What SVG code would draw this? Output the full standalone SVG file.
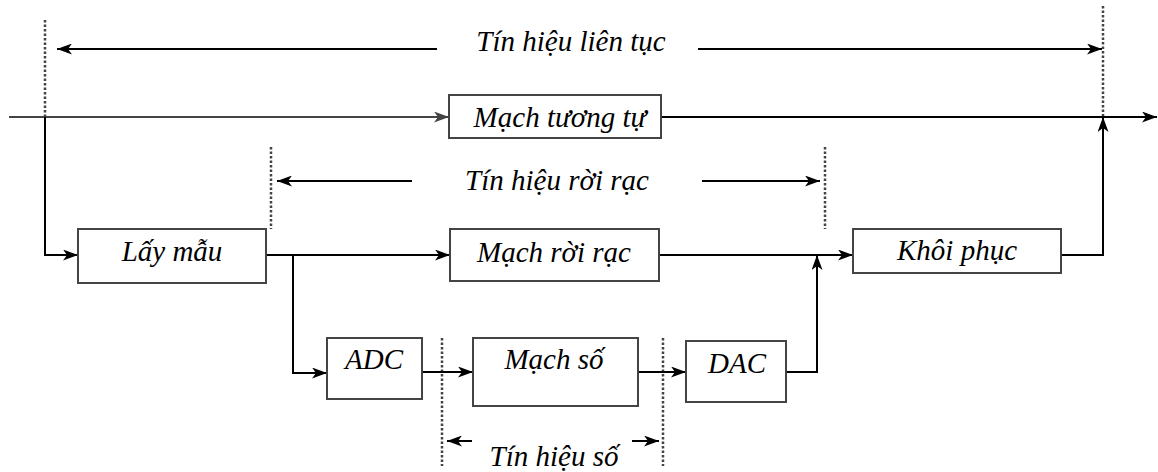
<svg xmlns="http://www.w3.org/2000/svg" width="1158" height="472" viewBox="0 0 1158 472">
<style>
.box{fill:#fff;stroke:#444;stroke-width:2}
.ln{fill:none;stroke:#000;stroke-width:2}
.gl{fill:none;stroke:#444;stroke-width:2}
.dot{fill:none;stroke:#444;stroke-width:2.5;stroke-dasharray:2.5,2}
.t{font-family:"Liberation Serif","Times New Roman",serif;font-style:italic;font-size:29px;fill:#000;text-anchor:middle}
</style>
<defs>
<marker id="ah" markerUnits="userSpaceOnUse" markerWidth="16" markerHeight="11" refX="15" refY="5.5" orient="auto">
<path d="M0,0 L15,5.5 L0,11 L4,5.5 Z" fill="#000"/>
</marker>
<marker id="ahg" markerUnits="userSpaceOnUse" markerWidth="16" markerHeight="11" refX="15" refY="5.5" orient="auto">
<path d="M0,0 L15,5.5 L0,11 L4,5.5 Z" fill="#444"/>
</marker>
</defs>
<g id="guides">
<line class="dot" x1="45" y1="20" x2="45" y2="117"/>
<line class="dot" x1="1103" y1="6" x2="1103" y2="117"/>
<line class="dot" x1="271" y1="147" x2="271" y2="229"/>
<line class="dot" x1="825" y1="147" x2="825" y2="229"/>
<line class="dot" x1="442" y1="338" x2="442" y2="466"/>
<line class="dot" x1="663" y1="338" x2="663" y2="466"/>
</g>
<g id="labels">
<line class="ln" x1="437" y1="49" x2="57" y2="49" marker-end="url(#ah)"/>
<line class="ln" x1="698" y1="49" x2="1102" y2="49" marker-end="url(#ah)"/>
<text class="t" x="571" y="51">Tín hiệu liên tục</text>
<line class="ln" x1="412" y1="181" x2="277" y2="181" marker-end="url(#ah)"/>
<line class="ln" x1="702" y1="181" x2="820" y2="181" marker-end="url(#ah)"/>
<text class="t" x="557" y="190">Tín hiệu rời rạc</text>
<line class="ln" x1="472" y1="441" x2="447" y2="441" marker-end="url(#ah)"/>
<line class="ln" x1="632" y1="441" x2="659" y2="441" marker-end="url(#ah)"/>
<text class="t" x="554" y="466">Tín hiệu số</text>
</g>
<g id="connectors">
<line class="gl" x1="9" y1="117" x2="449" y2="117" marker-end="url(#ahg)"/>
<line class="ln" x1="661" y1="117" x2="1157" y2="117" marker-end="url(#ah)"/>
<polyline class="ln" points="45,117 45,255 78,255" marker-end="url(#ah)"/>
<line class="ln" x1="266" y1="255" x2="450" y2="255" marker-end="url(#ah)"/>
<polyline class="ln" points="293,255 293,373 327,373" marker-end="url(#ah)"/>
<line class="ln" x1="659" y1="255" x2="853" y2="255" marker-end="url(#ah)"/>
<line class="ln" x1="422" y1="372" x2="473" y2="372" marker-end="url(#ah)"/>
<line class="ln" x1="638" y1="372" x2="686" y2="372" marker-end="url(#ah)"/>
<polyline class="ln" points="786,372 817,372 817,255" marker-end="url(#ah)"/>
<polyline class="ln" points="1061,255 1103,255 1103,117" marker-end="url(#ah)"/>
</g>
<g id="mach-tuong-tu">
<rect class="box" x="449" y="95" width="212" height="43"/>
<text class="t" x="560" y="127">Mạch tương tự</text>
</g>
<g id="lay-mau">
<rect class="box" x="78" y="229" width="188" height="54"/>
<text class="t" x="172" y="261">Lấy mẫu</text>
</g>
<g id="mach-roi-rac">
<rect class="box" x="450" y="229" width="209" height="52"/>
<text class="t" x="554" y="262">Mạch rời rạc</text>
</g>
<g id="khoi-phuc">
<rect class="box" x="853" y="229" width="208" height="44"/>
<text class="t" x="957" y="260">Khôi phục</text>
</g>
<g id="adc">
<rect class="box" x="327" y="338" width="95" height="61"/>
<text class="t" x="374" y="369">ADC</text>
</g>
<g id="mach-so">
<rect class="box" x="473" y="338" width="165" height="68"/>
<text class="t" x="554" y="369">Mạch số</text>
</g>
<g id="dac">
<rect class="box" x="686" y="341" width="100" height="61"/>
<text class="t" x="737" y="373">DAC</text>
</g>
</svg>
